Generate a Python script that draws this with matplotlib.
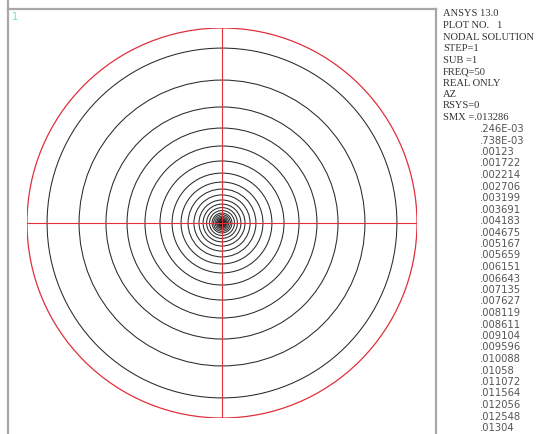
import matplotlib
matplotlib.use("Agg")
import matplotlib.pyplot as plt
from matplotlib.patches import Circle
from matplotlib.lines import Line2D

# ---- data ----
header_lines = ["ANSYS 13.0", "PLOT NO.   1", "NODAL SOLUTION", "STEP=1", "SUB =1",
                "FREQ=50", "REAL ONLY", "AZ", "RSYS=0"]
smx_label = "SMX =.013286"
contour_levels = [".246E-03", ".738E-03", ".00123", ".001722", ".002214", ".002706",
                  ".003199", ".003691", ".004183", ".004675", ".005167", ".005659",
                  ".006151", ".006643", ".007135", ".007627", ".008119", ".008611",
                  ".009104", ".009596", ".010088", ".01058", ".011072", ".011564",
                  ".012056", ".012548", ".01304"]
# contour radii, as fraction of the domain radius
contour_radii = [0.897, 0.733, 0.595, 0.487, 0.395, 0.318, 0.256, 0.210, 0.174,
                 0.144, 0.118, 0.097, 0.079, 0.064, 0.051, 0.043, 0.035, 0.028,
                 0.023, 0.019, 0.015]
domain_radius = 1.0

W, H = 539, 434
fig = plt.figure(figsize=(W / 100, H / 100), dpi=100)
fig.patch.set_facecolor("white")

# frame (open at the bottom)
frame_col = "#a8a8a8"
for xs, ys in [([8, 8], [0, 9]), ([8, 436], [9, 9]), ([436, 436], [9, 434])]:
    fig.add_artist(Line2D([x / W for x in xs], [1 - y / H for y in ys],
                          color=frame_col, lw=1.6, transform=fig.transFigure))
fig.add_artist(Line2D([8 / W, 8 / W], [0, 1 - 9 / H], color=frame_col, lw=1.6,
                      transform=fig.transFigure))

fig.text(12 / W, 1 - 17 / H, "1", color="#66dddd", fontsize=7,
         family="DejaVu Sans", va="center", ha="left")

# plot axes
cx, cy, rp = 222, 223, 195
ax = fig.add_axes([(cx - rp) / W, 1 - (cy + rp) / H, 2 * rp / W, 2 * rp / H])
ax.set_xlim(-domain_radius, domain_radius)
ax.set_ylim(-domain_radius, domain_radius)
ax.axis("off")

for r in contour_radii:
    ax.add_patch(Circle((0, 0), r, fill=False, ec="#2a2a2a", lw=0.75))
ax.add_patch(Circle((0, 0), 0.012, fc="#111111", ec="#111111", lw=0.5))

red = "#e0303c"
ax.add_patch(Circle((0, 0), domain_radius, fill=False, ec=red, lw=0.9))
ax.plot([-domain_radius, domain_radius], [0, 0], color=red, lw=0.8)
ax.plot([0, 0], [-domain_radius, domain_radius], color=red, lw=0.8)

# legend text
step = 11.5
y0 = 14
for i, t in enumerate(header_lines):
    fig.text(443 / W, 1 - (y0 + i * step) / H, t, family="Liberation Serif",
             fontsize=7.6, color="#333333", va="center", ha="left")
y_smx = y0 + len(header_lines) * step
fig.text(443 / W, 1 - y_smx / H, smx_label, family="Liberation Serif",
         fontsize=7.6, color="#333333", va="center", ha="left")
for i, t in enumerate(contour_levels):
    fig.text(480 / W, 1 - (y_smx + (i + 1) * step) / H, t, family="DejaVu Sans",
             fontsize=7.2, color="#555555", va="center", ha="left")

fig.savefig("out.png", dpi=100)
